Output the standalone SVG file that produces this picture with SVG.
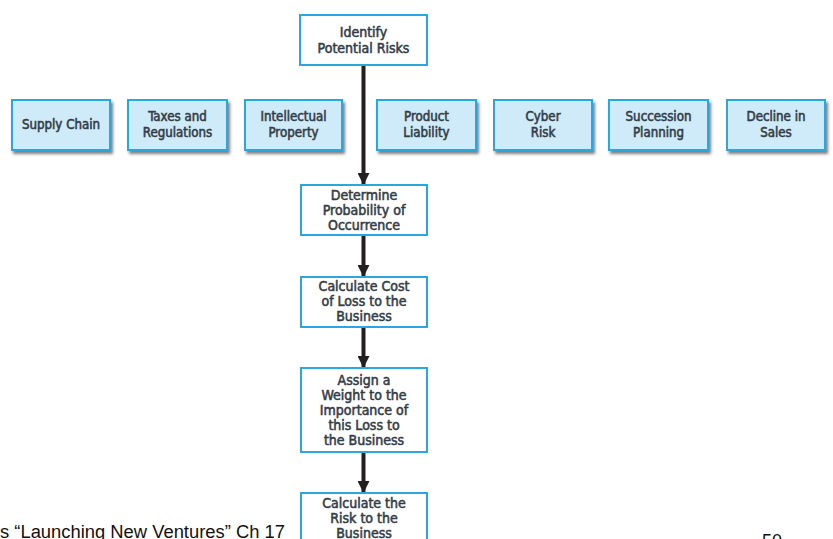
<svg xmlns="http://www.w3.org/2000/svg" width="833" height="539" viewBox="0 0 833 539">
  <style>
    .step { fill: #ffffff; stroke: #2aa7de; stroke-width: 2; }
    .risk { fill: #cfeaf8; stroke: #2aa7de; stroke-width: 2; filter: url(#shadow); }
    .lbl { font-family: "DejaVu Sans Condensed", "Liberation Sans Narrow", "Liberation Sans", sans-serif; font-weight: normal; fill: #333d48; stroke: #333d48; stroke-width: 0.55; text-anchor: middle; }
    .s14 { font-size: 14px; }
    .s13 { font-size: 13.2px; }
    .flow { stroke: #231f20; stroke-width: 4; fill: none; marker-end: url(#head); }
    .foot { font-family: "Liberation Sans", Arial, sans-serif; font-size: 18px; fill: #111; }
  </style>
  <defs>
    <filter id="shadow" x="-10%" y="-10%" width="125%" height="135%">
      <feDropShadow dx="2" dy="3" stdDeviation="1.6" flood-color="#3a3a3a" flood-opacity="0.65"/>
    </filter>
    <marker id="head" markerUnits="userSpaceOnUse" markerWidth="12" markerHeight="12" viewBox="0 0 12 12" refX="12" refY="6" orient="auto">
      <path d="M0,0 L12,6 L0,12 Z" fill="#231f20"/>
    </marker>
  </defs>

  <rect width="833" height="539" fill="#ffffff"/>

  <!-- connectors -->
  <g id="connectors">
    <line class="flow" x1="363.5" y1="65" x2="363.5" y2="185"/>
    <line class="flow" x1="363.5" y1="235" x2="363.5" y2="277"/>
    <line class="flow" x1="363.5" y1="327" x2="363.5" y2="368"/>
    <line class="flow" x1="363.5" y1="452" x2="363.5" y2="493"/>
  </g>

  <!-- process steps -->
  <g id="identify">
    <rect class="step" x="300" y="15" width="127" height="50"/>
    <text class="lbl s14" x="363.5" y="37">Identify</text>
    <text class="lbl s14" x="363.5" y="53">Potential Risks</text>
  </g>
  <g id="probability">
    <rect class="step" x="301" y="185" width="126" height="50"/>
    <text class="lbl s14" x="364" y="200">Determine</text>
    <text class="lbl s14" x="364" y="215">Probability of</text>
    <text class="lbl s14" x="364" y="230">Occurrence</text>
  </g>
  <g id="cost">
    <rect class="step" x="301" y="277" width="126" height="50"/>
    <text class="lbl s14" x="364" y="291">Calculate Cost</text>
    <text class="lbl s14" x="364" y="306">of Loss to the</text>
    <text class="lbl s14" x="364" y="321">Business</text>
  </g>
  <g id="weight">
    <rect class="step" x="301" y="368" width="126" height="84"/>
    <text class="lbl s14" x="364" y="385">Assign a</text>
    <text class="lbl s14" x="364" y="400">Weight to the</text>
    <text class="lbl s14" x="364" y="415">Importance of</text>
    <text class="lbl s14" x="364" y="430">this Loss to</text>
    <text class="lbl s14" x="364" y="445">the Business</text>
  </g>
  <g id="risk">
    <rect class="step" x="301" y="493" width="126" height="60"/>
    <text class="lbl s14" x="364" y="508">Calculate the</text>
    <text class="lbl s14" x="364" y="523">Risk to the</text>
    <text class="lbl s14" x="364" y="538">Business</text>
  </g>

  <!-- risk categories -->
  <g id="supply-chain">
    <rect class="risk" x="12" y="100" width="98" height="50"/>
    <text class="lbl s13" x="61" y="129">Supply Chain</text>
  </g>
  <g id="taxes">
    <rect class="risk" x="128" y="100" width="99" height="50"/>
    <text class="lbl s13" x="177.5" y="121">Taxes and</text>
    <text class="lbl s13" x="177.5" y="137">Regulations</text>
  </g>
  <g id="intellectual-property">
    <rect class="risk" x="245" y="100" width="97" height="50"/>
    <text class="lbl s13" x="293.5" y="121">Intellectual</text>
    <text class="lbl s13" x="293.5" y="137">Property</text>
  </g>
  <g id="product-liability">
    <rect class="risk" x="377" y="100" width="99" height="50"/>
    <text class="lbl s13" x="426.5" y="121">Product</text>
    <text class="lbl s13" x="426.5" y="137">Liability</text>
  </g>
  <g id="cyber-risk">
    <rect class="risk" x="494" y="100" width="98" height="50"/>
    <text class="lbl s13" x="543" y="121">Cyber</text>
    <text class="lbl s13" x="543" y="137">Risk</text>
  </g>
  <g id="succession-planning">
    <rect class="risk" x="609" y="100" width="99" height="50"/>
    <text class="lbl s13" x="658.5" y="121">Succession</text>
    <text class="lbl s13" x="658.5" y="137">Planning</text>
  </g>
  <g id="decline-in-sales">
    <rect class="risk" x="727" y="100" width="98" height="50"/>
    <text class="lbl s13" x="776" y="121">Decline in</text>
    <text class="lbl s13" x="776" y="137">Sales</text>
  </g>

  <!-- footer -->
  <text class="foot" x="0" y="538" textLength="285" lengthAdjust="spacingAndGlyphs">s “Launching New Ventures” Ch 17</text>
  <text class="foot" x="762" y="547">50</text>
</svg>
